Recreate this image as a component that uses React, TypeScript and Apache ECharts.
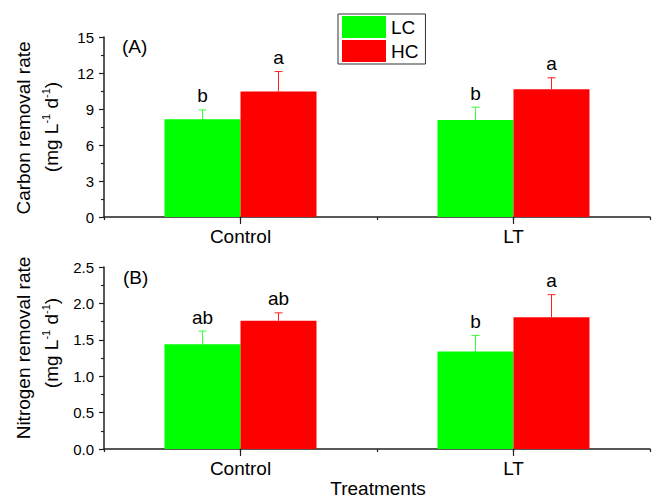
import React, { useEffect, useRef } from "react";
import * as echarts from "echarts";

const groups = ["Control", "LT"];
const categories = ["", "Control", "", "LT", ""];
const groupIndex = [1, 3];

const carbonLC = [8.14, 8.08];
const carbonLCErr = [0.78, 1.07];
const carbonHC = [10.45, 10.65];
const carbonHCErr = [1.67, 0.95];
const carbonLCLetters = ["b", "b"];
const carbonHCLetters = ["a", "a"];

const nitroLC = [1.44, 1.34];
const nitroLCErr = [0.18, 0.22];
const nitroHC = [1.76, 1.81];
const nitroHCErr = [0.11, 0.31];
const nitroLCLetters = ["ab", "b"];
const nitroHCLetters = ["ab", "a"];

const carbonTicks = { min: 0, max: 15, interval: 3 };
const nitroTicks = { min: 0, max: 2.5, interval: 0.5 };

const FONT = "'Liberation Sans', Arial, sans-serif";
const GREEN = "#00ff00";
const RED = "#ff0000";
const BAR_W = 76;

function spread(vals: number[]) {
  const out: any[] = categories.map(() => "-");
  groupIndex.forEach((ci, i) => (out[ci] = vals[i]));
  return out;
}

function errSeries(grid: number, vals: number[], errs: number[], letters: string[], offset: number, color: string) {
  const data = groups.map((_, i) => [groupIndex[i], vals[i], errs[i]]);
  return {
    type: "custom",
    xAxisIndex: grid * 2,
    yAxisIndex: grid,
    silent: true,
    z: 5,
    data,
    renderItem: (params: any, api: any) => {
      const x = api.value(0);
      const v = api.value(1);
      const e = api.value(2);
      const base = api.coord([x, v]);
      const top = api.coord([x, v + e]);
      const cx = base[0] + offset;
      const st = { stroke: color, lineWidth: 1 };
      return {
        type: "group",
        children: [
          { type: "line", shape: { x1: cx, y1: base[1], x2: cx, y2: top[1] }, style: st },
          { type: "line", shape: { x1: cx - 4, y1: top[1], x2: cx + 4, y2: top[1] }, style: st },
          {
            type: "text",
            x: cx,
            y: top[1] - 14,
            style: {
              text: letters[params.dataIndex],
              fill: "#000",
              fontSize: 19,
              fontFamily: FONT,
              align: "center",
              verticalAlign: "middle",
            },
          },
        ],
      };
    },
  };
}

function xAxes(grid: number) {
  return [
    {
      type: "category",
      gridIndex: grid,
      data: categories,
      boundaryGap: false,
      axisLine: { show: true, lineStyle: { color: "#222", width: 1.5 } },
      axisTick: { show: true, length: 7, interval: (i: number) => i === 1 || i === 3, lineStyle: { color: "#222", width: 1.2 } },
      axisLabel: { show: true, interval: 0, color: "#000", fontSize: 19, fontFamily: FONT, margin: 10 },
    },
    {
      type: "category",
      gridIndex: grid,
      position: "bottom",
      data: categories,
      boundaryGap: false,
      axisLine: { show: false },
      axisTick: { show: true, length: 3, interval: 0, lineStyle: { color: "#222", width: 1.2 } },
      axisLabel: { show: false },
    },
  ];
}

function yAxis(grid: number, t: any, digits: number) {
  return {
    type: "value",
    gridIndex: grid,
    min: t.min,
    max: t.max,
    interval: t.interval,
    axisLine: { show: true, lineStyle: { color: "#222", width: 1.5 } },
    axisTick: { show: true, length: 5, lineStyle: { color: "#222", width: 1.2 } },
    minorTick: { show: true, splitNumber: 2, length: 3, lineStyle: { color: "#222", width: 1.2 } },
    splitLine: { show: false },
    minorSplitLine: { show: false },
    axisLabel: {
      color: "#000",
      fontSize: 15,
      fontFamily: FONT,
      margin: 10,
      formatter: (v: number) => v.toFixed(digits),
    },
  };
}

function barSeries(name: string, grid: number, vals: number[], color: string) {
  return {
    name,
    type: "bar",
    xAxisIndex: grid * 2,
    yAxisIndex: grid,
    data: spread(vals),
    barWidth: BAR_W,
    barGap: "0%",
    itemStyle: { color },
  };
}

function yName(x: number, y: number, text: string) {
  return {
    type: "text",
    x,
    y,
    rotation: Math.PI / 2,
    style: {
      text,
      fill: "#000",
      fontSize: 19,
      fontFamily: FONT,
      align: "center",
      verticalAlign: "middle",
      lineHeight: 22,
      rich: {
        n: { fontSize: 19, fontFamily: FONT, lineHeight: 22 },
        sup: { fontSize: 11, fontFamily: FONT, verticalAlign: "top" },
      },
    },
  };
}

export default function App() {
  const ref = useRef<HTMLDivElement>(null);
  useEffect(() => {
    if (!ref.current) return;
    const chart = echarts.init(ref.current, undefined, { renderer: "svg" });
    chart.setOption({
      animation: false,
      backgroundColor: "#fff",
      grid: [
        { left: 104, right: 1, top: 37, height: 180 },
        { left: 104, right: 1, top: 267, height: 182 },
      ],
      legend: {
        data: ["LC", "HC"],
        orient: "vertical",
        left: 338,
        top: 14,
        icon: "rect",
        itemWidth: 44,
        itemHeight: 22,
        itemGap: 2,
        padding: [2, 7, 2, 4],
        borderColor: "#333",
        borderWidth: 1,
        textStyle: { fontSize: 19, fontFamily: FONT, color: "#000" },
      },
      xAxis: [...xAxes(0), ...xAxes(1)],
      yAxis: [yAxis(0, carbonTicks, 0), yAxis(1, nitroTicks, 1)],
      series: [
        barSeries("LC", 0, carbonLC, GREEN),
        barSeries("HC", 0, carbonHC, RED),
        barSeries("LC", 1, nitroLC, GREEN),
        barSeries("HC", 1, nitroHC, RED),
        errSeries(0, carbonLC, carbonLCErr, carbonLCLetters, -BAR_W / 2, "#33ff33"),
        errSeries(0, carbonHC, carbonHCErr, carbonHCLetters, BAR_W / 2, "#ff2020"),
        errSeries(1, nitroLC, nitroLCErr, nitroLCLetters, -BAR_W / 2, "#33ff33"),
        errSeries(1, nitroHC, nitroHCErr, nitroHCLetters, BAR_W / 2, "#ff2020"),
      ],
      graphic: [
        yName(23, 128, "{n|Carbon removal rate}"),
        yName(51, 127, "{n|(mg L}{sup|-1}{n| d}{sup|-1}{n|)}"),
        yName(23, 348, "{n|Nitrogen removal rate}"),
        yName(51, 343, "{n|(mg L}{sup|-1}{n| d}{sup|-1}{n|)}"),
        { type: "text", x: 122, y: 46, style: { text: "(A)", fill: "#000", fontSize: 19, fontFamily: FONT, align: "left", verticalAlign: "middle" } },
        { type: "text", x: 123, y: 277, style: { text: "(B)", fill: "#000", fontSize: 19, fontFamily: FONT, align: "left", verticalAlign: "middle" } },
        { type: "text", x: 378, y: 488, style: { text: "Treatments", fill: "#000", fontSize: 19, fontFamily: FONT, align: "center", verticalAlign: "middle" } },
      ],
    });
    return () => chart.dispose();
  }, []);
  return <div ref={ref} style={{ position: "absolute", left: 0, top: 0, width: 653, height: 497 }} />;
}
